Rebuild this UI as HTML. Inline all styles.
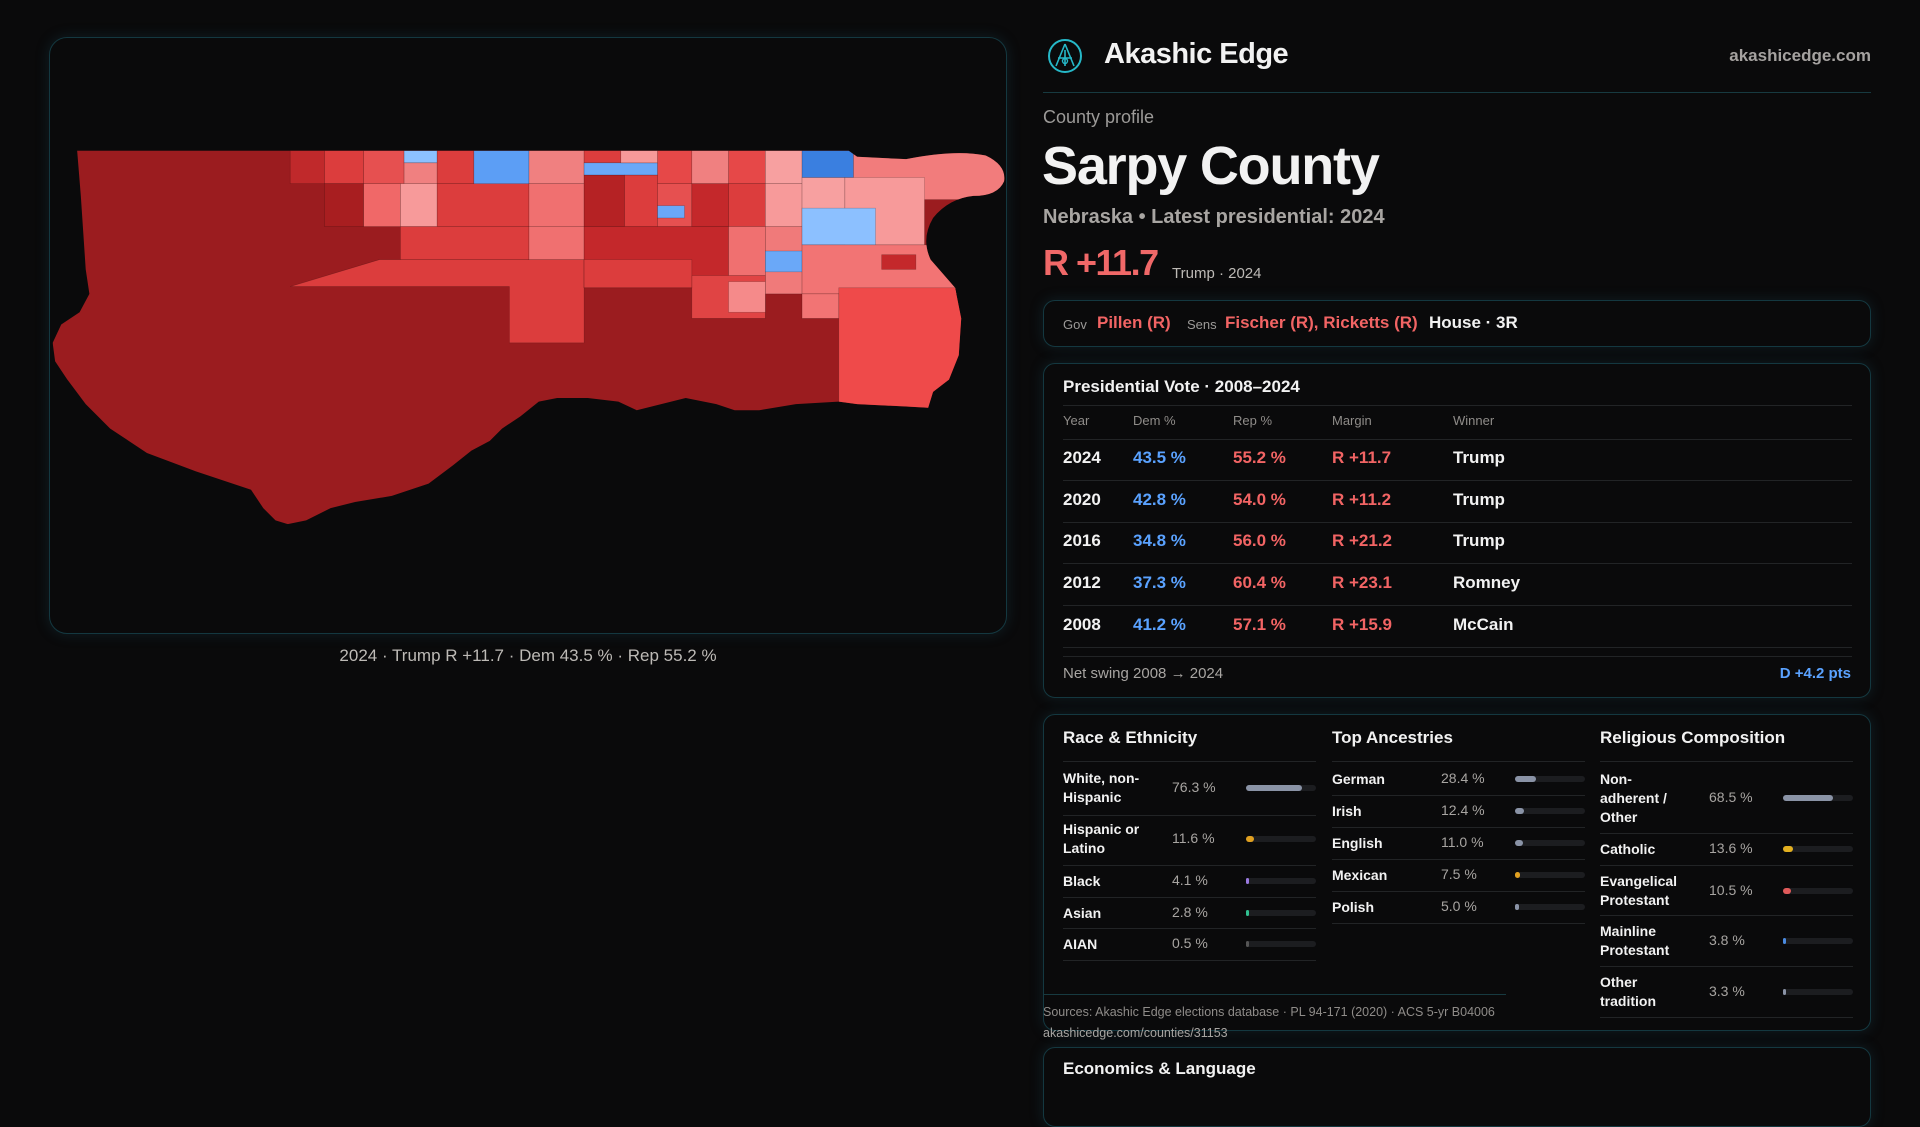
<!DOCTYPE html>
<html><head><meta charset="utf-8">
<style>
*{box-sizing:border-box;margin:0;padding:0}
body{width:1920px;height:1080px;background:#0a0a0b;font-family:"Liberation Sans",sans-serif;color:#f2f2f2;position:relative;overflow:hidden}
.abs{position:absolute;white-space:nowrap}
.panel{position:absolute;border:1px solid #143840;border-radius:16px;background:#0a0a0b;box-shadow:0 0 14px rgba(30,90,110,0.25)}
.gray{color:#9c9a98}
.red{color:#f26464}
.blue{color:#5aa2ff}
.hr{position:absolute;height:1px;background:#222426}
.track{position:absolute;height:6px;border-radius:3px;background:#1c1d20}
.fill{position:absolute;left:0;top:0;height:6px;border-radius:3px}
</style></head><body>
<div class="panel" style="left:49px;top:37px;width:958px;height:597px;border-radius:18px"></div>
<svg class="abs" style="left:0;top:0" width="1920" height="1080" viewBox="0 0 1568 882">
<defs><clipPath id="outline"><path d="M63,123 L693,123 L700,128 L740,130 Q780,122 805,127 Q822,135 820,148 Q815,160 795,160 Q775,162 762,178 Q752,195 760,212 L780,235 L785,260 L783,290 L775,310 L762,320 L758,333 L740,332 L700,330 L685,328 L650,330 L620,335 L600,335 L585,330 L560,325 L540,330 L520,335 L505,328 L480,325 L455,325 L440,328 L425,340 L410,350 L400,360 L385,368 L370,380 L350,395 L320,405 L290,410 L270,415 L250,425 L235,428 L225,425 L215,415 L205,400 L190,395 L160,385 L120,370 L90,350 L70,330 L55,310 L45,295 L43,280 L50,265 L65,255 L73,240 L70,220 L68,190 L66,160 Z"/></clipPath></defs>
<g clip-path="url(#outline)" stroke="rgba(0,0,0,0.25)" stroke-width="0.5">
<rect x="0" y="100" width="900" height="400" fill="#9b1c1f"/>
<polygon points="237,234 310,212 477,212 477,280 416,280 416,234" fill="#dc3d3d"/>
<rect x="237" y="123" width="28" height="27" fill="#c0292b"/>
<rect x="265" y="123" width="32" height="27" fill="#dc3d3d"/>
<rect x="297" y="123" width="33" height="27" fill="#e65050"/>
<rect x="330" y="123" width="27" height="10" fill="#8cc0ff"/>
<rect x="330" y="133" width="27" height="17" fill="#f08080"/>
<rect x="357" y="123" width="30" height="27" fill="#dc3d3d"/>
<rect x="387" y="123" width="45" height="32" fill="#5c9ef5"/>
<rect x="432" y="123" width="45" height="27" fill="#f08080"/>
<rect x="477" y="123" width="30" height="10" fill="#dc3d3d"/>
<rect x="477" y="133" width="60" height="10" fill="#6aa8f8"/>
<rect x="507" y="123" width="30" height="10" fill="#f79999"/>
<rect x="537" y="123" width="28" height="27" fill="#e64848"/>
<rect x="565" y="123" width="30" height="27" fill="#f08080"/>
<rect x="595" y="123" width="30" height="27" fill="#e64848"/>
<rect x="625" y="123" width="30" height="27" fill="#f7a0a0"/>
<rect x="655" y="123" width="42" height="22" fill="#3a7fe0"/>
<rect x="697" y="123" width="130" height="40" fill="#f27c7c"/>
<rect x="265" y="150" width="32" height="35" fill="#a81e20"/>
<rect x="297" y="150" width="30" height="35" fill="#f06868"/>
<rect x="327" y="150" width="30" height="35" fill="#f79a9a"/>
<rect x="357" y="150" width="75" height="35" fill="#dc3d3d"/>
<rect x="432" y="150" width="45" height="35" fill="#f07070"/>
<rect x="477" y="143" width="33" height="42" fill="#b52224"/>
<rect x="510" y="143" width="27" height="42" fill="#dc3d3d"/>
<rect x="537" y="150" width="28" height="35" fill="#e65050"/>
<rect x="565" y="150" width="30" height="35" fill="#c4282b"/>
<rect x="595" y="150" width="30" height="35" fill="#dc3d3d"/>
<rect x="625" y="150" width="30" height="35" fill="#f79a9a"/>
<rect x="655" y="145" width="35" height="40" fill="#f7a0a0"/>
<rect x="690" y="145" width="65" height="55" fill="#f79a9a"/>
<rect x="327" y="185" width="105" height="27" fill="#dc3d3d"/>
<rect x="432" y="185" width="45" height="27" fill="#f07070"/>
<rect x="477" y="185" width="118" height="50" fill="#c4282b"/>
<rect x="537" y="168" width="22" height="10" fill="#6aa8f8"/>
<rect x="595" y="185" width="30" height="40" fill="#f07070"/>
<rect x="625" y="185" width="30" height="55" fill="#f07a7a"/>
<rect x="625" y="205" width="30" height="17" fill="#6aa8f8"/>
<rect x="655" y="170" width="60" height="30" fill="#8cc0ff"/>
<rect x="655" y="200" width="130" height="40" fill="#f27474"/>
<rect x="720" y="208" width="28" height="12" fill="#c4282b"/>
<rect x="685" y="235" width="110" height="100" fill="#ef4a4a"/>
<rect x="655" y="240" width="30" height="20" fill="#f27474"/>
<rect x="565" y="225" width="60" height="35" fill="#e04444"/>
<rect x="595" y="230" width="30" height="25" fill="#f58a8a"/>
<rect x="477" y="212" width="88" height="23" fill="#dc3d3d"/>
</g>
</svg>
<div class="abs gray" style="left:528px;top:646px;font-size:17px;transform:translateX(-50%);color:#bdbab6">2024 · Trump R +11.7 · Dem 43.5 % · Rep 55.2 %</div>

<svg class="abs" style="left:1047px;top:38px" width="36" height="36" viewBox="0 0 36 36"><circle cx="18" cy="18" r="16" fill="none" stroke="#26b8c8" stroke-width="2"/><path d="M18 6 L9 28 M18 6 L27 28 M11 20 L25 20 M18 12 L18 28" stroke="#26b8c8" stroke-width="1.6" fill="none"/><circle cx="18" cy="23" r="2.5" fill="none" stroke="#26b8c8" stroke-width="1.4"/></svg>
<div class="abs" style="left:1104px;top:38px;font-size:29px;font-weight:bold;letter-spacing:-0.5px">Akashic Edge</div>
<div class="abs gray" style="right:49px;top:46px;font-size:17px;font-weight:bold;color:#a5a2a0">akashicedge.com</div>
<div class="hr" style="left:1043px;top:92px;width:828px;background:#173a40"></div>
<div class="abs gray" style="left:1043px;top:107px;font-size:18px">County profile</div>
<div class="abs" style="left:1042px;top:135px;font-size:54px;font-weight:bold;letter-spacing:-1.2px">Sarpy County</div>
<div class="abs" style="left:1043px;top:206px;font-size:20px;font-weight:bold;color:#a8a5a2">Nebraska • Latest presidential: 2024</div>
<div class="abs red" style="left:1043px;top:242px;font-size:36px;font-weight:bold;color:#f06868;letter-spacing:-1.5px">R +11.7</div>
<div class="abs" style="left:1172px;top:265px;font-size:15px;color:#bdbab6">Trump · 2024</div>

<div class="panel" style="left:1043px;top:300px;width:828px;height:47px;border-radius:12px">
<span class="abs gray" style="left:19px;top:16px;font-size:13px">Gov</span>
<span class="abs red" style="left:53px;top:12px;font-size:17px;font-weight:bold">Pillen (R)</span>
<span class="abs gray" style="left:143px;top:16px;font-size:13px">Sens</span>
<span class="abs red" style="left:181px;top:12px;font-size:17px;font-weight:bold">Fischer (R), Ricketts (R)</span>
<span class="abs" style="left:385px;top:12px;font-size:17px;font-weight:bold">House · 3R</span>
</div>

<div class="panel" style="left:1043px;top:363px;width:828px;height:335px;border-radius:12px"></div>
<div class="abs" style="left:1063px;top:377px;font-size:17px;font-weight:bold">Presidential Vote · 2008–2024</div>
<div class="hr" style="left:1063px;top:405px;width:789px"></div>
<div id="ptable"></div>
<div class="hr" style="left:1063px;top:656px;width:789px"></div>
<div class="abs gray" style="left:1063px;top:665px;font-size:15px;color:#a8a5a2">Net swing 2008 → 2024</div>
<div class="abs blue" style="right:69px;top:665px;font-size:15px;font-weight:bold">D +4.2 pts</div>

<div class="panel" style="left:1043px;top:714px;width:828px;height:317px;border-radius:12px"></div>
<div id="demo"></div>
<div class="hr" style="left:1043px;top:994px;width:463px;background:#173a40"></div>
<div class="abs gray" style="left:1043px;top:1005px;font-size:12.5px;color:#8f8c89">Sources: Akashic Edge elections database · PL 94-171 (2020) · ACS 5-yr B04006</div>
<div class="abs gray" style="left:1043px;top:1026px;font-size:12.5px;color:#a8a5a2">akashicedge.com/counties/31153</div>
<div class="panel" style="left:1043px;top:1047px;width:828px;height:80px;border-radius:12px"></div>
<div class="abs" style="left:1063px;top:1059px;font-size:17px;font-weight:bold">Economics &amp; Language</div>

<script>
const years=["2024","2020","2016","2012","2008"];
const demPct=[43.5,42.8,34.8,37.3,41.2];
const repPct=[55.2,54.0,56.0,60.4,57.1];
const winners=["Trump","Trump","Trump","Romney","McCain"];
const headers=["Year","Dem %","Rep %","Margin","Winner"];

const raceLabels=["White, non-<br>Hispanic","Hispanic or<br>Latino","Black","Asian","AIAN"];
const raceValues=[76.3,11.6,4.1,2.8,0.5];
const ancLabels=["German","Irish","English","Mexican","Polish"];
const ancValues=[28.4,12.4,11.0,7.5,5.0];
const relLabels=["Non-<br>adherent /<br>Other","Catholic","Evangelical<br>Protestant","Mainline<br>Protestant","Other<br>tradition"];
const relValues=[68.5,13.6,10.5,3.8,3.3];

function mk(parent,html,style,name,cls){
  const d=document.createElement('div');
  d.className='abs '+(cls||'');
  d.setAttribute('style',style);
  d.innerHTML=html;
  
  
  parent.appendChild(d);return d;
}
const pt=document.getElementById('ptable');
const colX=[1063,1133,1233,1332,1453];
headers.forEach((h,i)=>mk(pt,h,`left:${colX[i]}px;top:413px;font-size:13px;color:#8f8c89`,'column-header','gray'));
mk(pt,'',`left:1063px;top:439px;width:789px;height:1px;background:#222426`,'header-rule');
years.forEach((y,i)=>{
  const top=448+i*41.7;
  const m=repPct[i]-demPct[i];
  const marg=(m>=0?'R +':'D +')+Math.abs(m).toFixed(1);
  mk(pt,y,`left:${colX[0]}px;top:${top}px;font-size:17px;font-weight:bold`,'row-year');
  mk(pt,demPct[i].toFixed(1)+' %',`left:${colX[1]}px;top:${top}px;font-size:17px;font-weight:bold`,'row-dem-pct','blue');
  mk(pt,repPct[i].toFixed(1)+' %',`left:${colX[2]}px;top:${top}px;font-size:17px;font-weight:bold`,'row-rep-pct','red');
  mk(pt,marg,`left:${colX[3]}px;top:${top}px;font-size:17px;font-weight:bold`,'row-margin','red');
  mk(pt,winners[i],`left:${colX[4]}px;top:${top}px;font-size:17px;font-weight:bold`,'row-winner');
  mk(pt,'',`left:1063px;top:${top+32}px;width:789px;height:1px;background:#222426`,'row-rule');
});

const demo=document.getElementById('demo');
function section(title,x,labels,values,colors,rowTops,valX,barX,rowBottoms){
  mk(demo,title,`left:${x}px;top:728px;font-size:17px;font-weight:bold`,'section-title');
  mk(demo,'',`left:${x}px;top:761px;width:253px;height:1px;background:#222426`,'section-rule');
  labels.forEach((l,i)=>{
    const cy=rowTops[i];
    const lines=l.split('<br>').length;
    mk(demo,l,`left:${x}px;top:${cy-lines*9.5}px;font-size:14px;font-weight:bold;line-height:19px;white-space:normal`,'row-label');
    mk(demo,values[i].toFixed(1)+' %',`left:${valX}px;top:${cy-9}px;font-size:14px;color:#a8a5a2`,'row-value','gray');
    const tr=mk(demo,'',`left:${barX}px;top:${cy-3}px;width:70px`,'bar-track','track');
    const f=document.createElement('div');
    f.className='fill';
    f.style.width=Math.max(3,values[i]/100*70*1.04)+'px';
    f.style.background=colors[i];
    
    
    tr.appendChild(f);
    mk(demo,'',`left:${x}px;top:${rowBottoms[i]}px;width:253px;height:1px;background:#222426`,'row-rule');
  });
}
section('Race &amp; Ethnicity',1063,raceLabels,raceValues,['#8a93a6','#e0a020','#9a7ae0','#30c090','#555'],[788,839,881,913,944],1172,1246,[815,865,897,928,960]);
section('Top Ancestries',1332,ancLabels,ancValues,['#8a93a6','#8a93a6','#8a93a6','#e0a020','#8a93a6'],[779,811,843,875,907],1441,1515,[795,827,859,891,923]);
section('Religious Composition',1600,relLabels,relValues,['#8a93a6','#e3b020','#e05a5a','#4a8ae0','#8a93a6'],[798,849,891,941,992],1709,1783,[833,865,915,966,1017]);
</script>
</body></html>
